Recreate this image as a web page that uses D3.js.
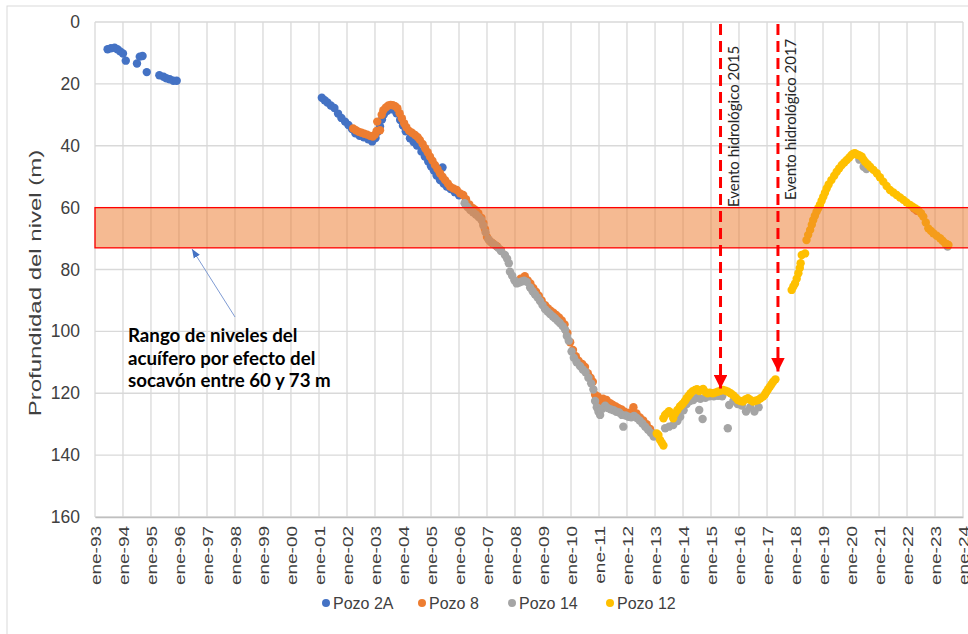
<!DOCTYPE html>
<html><head><meta charset="utf-8">
<script src="https://cdn.jsdelivr.net/npm/d3@7"></script>
<style>body{margin:0;background:#fff}svg{display:block}</style>
</head><body><svg id="c" width="968" height="634"></svg>
<script>
// ---- DATA (decimal year, depth m) ----
const seriesNames = ["Pozo 2A","Pozo 8","Pozo 14","Pozo 12"];
const seriesColors = ["#4472C4","#ED7D31","#A5A5A5","#FFC000"];
const pozo2A = [[1993.45,8.8],[1993.57,8.5],[1993.7,8.3],[1993.8,8.8],[1993.9,9.5],[1994.0,10.2],[1994.1,12.5],[1994.5,13.4],[1994.6,11.2],[1994.7,11.0],[1994.85,16.2],[1995.3,17.2],[1995.45,17.7],[1995.55,18.2],[1995.67,18.5],[1995.8,19.0],[1995.92,19.0],
[2001.1,24.5],[2001.2,25.3],[2001.3,26.0],[2001.42,27.0],[2001.55,27.8],[2001.68,29.6],[2001.8,31.0],[2001.93,32.2],[2002.05,33.3],[2002.18,34.6],[2002.3,36.0],[2002.45,36.8],[2002.6,37.3],[2002.76,37.9],[2002.9,38.6],[2003.02,37.5],[2003.1,35.5],[2003.18,33.8],[2003.25,31.5],[2003.32,29.8],[2003.44,28.7],[2003.6,28.2],[2003.77,29.5],[2003.9,31.7],[2004.0,33.5],[2004.1,35.3],[2004.25,37.6],[2004.38,38.8],[2004.5,39.9],[2004.66,41.9],[2004.78,43.5],[2004.9,45.1],[2005.0,46.6],[2005.1,48.0],[2005.2,49.6],[2005.32,51.1],[2005.41,47.0],[2005.45,52.2],[2005.56,53.2],[2005.7,54.0],[2005.85,55.0],[2006.0,56.0],[2008.3,83.2]];
const pozo8 = [[2002.22,34.4],[2002.32,35.0],[2002.42,35.5],[2002.52,35.8],[2002.62,36.1],[2002.72,36.4],[2002.82,36.8],[2002.92,37.0],[2003.0,36.4],[2003.06,35.2],[2003.08,32.2],[2003.18,35.0],[2003.24,30.0],[2003.3,28.5],[2003.39,27.6],[2003.48,27.0],[2003.56,26.8],[2003.64,26.9],[2003.72,27.2],[2003.8,27.9],[2003.88,29.5],[2003.96,31.1],[2004.04,32.7],[2004.12,34.0],[2004.22,35.2],[2004.32,35.8],[2004.43,36.5],[2004.52,37.2],[2004.6,38.1],[2004.7,39.4],[2004.79,40.8],[2004.88,42.1],[2004.96,43.5],[2005.05,44.8],[2005.14,46.2],[2005.23,47.5],[2005.32,48.9],[2005.41,50.0],[2005.5,51.1],[2005.6,52.2],[2005.68,53.2],[2005.8,53.8],[2005.92,54.3],[2006.04,55.4],[2006.15,55.9],[2006.25,57.3],[2006.37,59.0],[2006.5,60.2],[2006.6,60.8],[2006.69,61.8],[2006.8,63.3],[2006.87,65.0],[2006.93,67.0],[2007.0,69.5],[2007.1,70.8],[2007.2,71.5],[2007.35,72.5],[2007.5,73.8],
[2008.2,83.0],[2008.35,82.2],[2008.45,83.5],[2008.55,84.5],[2008.65,86.0],[2008.75,87.2],[2008.85,88.5],[2008.95,90.0],[2009.07,91.5],[2009.17,92.5],[2009.27,93.3],[2009.37,94.0],[2009.47,94.7],[2009.57,95.5],[2009.67,96.5],[2009.77,97.8],[2009.87,100.5],[2009.97,103.5],[2010.07,106.0],[2010.17,108.0],[2010.27,109.5],[2010.4,110.5],[2010.5,111.5],[2010.6,113.5],[2010.7,115.0],[2010.78,116.3],[2010.86,120.5],[2010.95,121.0],[2011.05,122.5],[2011.15,121.8],[2011.27,122.2],[2011.4,123.2],[2011.5,123.8],[2011.6,124.3],[2011.7,124.8],[2011.8,125.2],[2011.92,126.0],[2012.02,126.5],[2012.12,126.2],[2012.23,124.5],[2012.34,126.5],[2012.46,127.8],[2012.58,128.8],[2012.7,130.0],[2012.82,131.5],[2012.94,133.0],[2013.04,133.8],
[2022.25,60.3],[2022.35,61.0]];
const pozo14 = [[2006.2,58.6],[2006.3,59.8],[2006.4,60.8],[2006.5,61.5],[2006.6,62.2],[2006.7,63.0],[2006.8,64.0],[2006.87,65.8],[2006.95,68.0],[2007.05,70.2],[2007.15,71.2],[2007.29,72.1],[2007.4,73.0],[2007.5,74.0],[2007.64,75.3],[2007.72,76.5],[2007.78,78.0],[2007.82,80.7],[2007.9,82.0],[2007.98,83.5],[2008.06,84.5],[2008.15,84.2],[2008.24,83.9],[2008.33,83.6],[2008.42,84.0],[2008.54,85.8],[2008.63,87.0],[2008.71,88.0],[2008.8,89.0],[2008.89,90.2],[2008.98,91.5],[2009.07,92.8],[2009.16,93.6],[2009.25,94.4],[2009.35,95.2],[2009.43,95.8],[2009.52,96.6],[2009.6,97.3],[2009.7,98.3],[2009.79,99.5],[2009.85,101.5],[2009.92,103.0],[2010.02,106.5],[2010.1,108.5],[2010.2,110.0],[2010.32,111.2],[2010.42,112.3],[2010.52,113.2],[2010.62,115.0],[2010.72,116.8],[2010.8,118.8],[2010.86,122.5],[2010.92,124.5],[2010.98,126.0],[2011.04,127.0],[2011.12,125.0],[2011.22,124.0],[2011.32,124.8],[2011.42,125.2],[2011.52,125.5],[2011.62,126.0],[2011.72,126.2],[2011.82,127.0],[2011.87,130.8],[2011.95,127.2],[2012.05,127.6],[2012.15,127.8],[2012.25,127.3],[2012.35,128.0],[2012.45,128.8],[2012.55,129.8],[2012.65,130.8],[2012.75,131.8],[2012.85,132.8],[2012.95,134.0],
[2013.36,131.3],[2013.5,130.8],[2013.65,130.3],[2013.8,129.0],[2013.9,127.6],[2014.02,125.5],[2014.13,123.5],[2014.25,122.5],[2014.37,122.2],[2014.5,121.5],[2014.58,125.4],[2014.7,128.3],[2014.62,121.8],[2014.8,121.5],[2014.95,121.0],[2015.1,121.0],[2015.25,120.8],[2015.4,121.0],[2015.6,131.3],[2015.65,123.8],[2015.8,122.5],[2015.95,123.5],[2016.1,124.0],[2016.25,125.9],[2016.4,124.5],[2016.55,125.9],[2016.7,124.5],
[2020.3,44.5],[2020.45,46.8],[2020.55,47.5],[2023.45,72.6]];
const pozo12 = [[2013.06,133.0],[2013.12,133.5],[2013.18,135.1],[2013.24,136.0],[2013.3,136.9],
[2013.3,128.1],[2013.36,127.0],[2013.42,126.5],[2013.5,125.8],[2013.58,126.5],[2013.65,128.1],[2013.72,126.5],[2013.8,125.4],[2013.89,124.3],[2013.95,123.8],[2014.0,123.3],[2014.07,122.5],[2014.13,121.6],[2014.2,120.8],[2014.27,120.0],[2014.35,119.3],[2014.43,118.9],[2014.5,118.7],[2014.58,119.3],[2014.64,118.9],[2014.72,118.6],[2014.8,119.6],[2014.88,120.0],[2014.96,119.8],[2015.06,120.0],[2015.15,119.8],[2015.24,119.5],[2015.34,119.2],[2015.43,118.9],[2015.52,119.2],[2015.61,119.5],[2015.7,120.0],[2015.79,120.6],[2015.88,121.4],[2015.96,122.2],[2016.05,122.5],[2016.14,122.7],[2016.23,122.0],[2016.32,121.6],[2016.41,122.2],[2016.5,122.7],[2016.59,122.4],[2016.68,122.2],[2016.77,121.6],[2016.86,121.1],[2016.93,120.3],[2016.98,119.5],[2017.04,118.7],[2017.1,117.9],[2017.16,117.1],[2017.22,116.3],[2017.3,115.5],
[2017.88,86.6],[2017.94,85.5],[2018.0,84.5],[2018.06,83.0],[2018.12,81.2],[2018.17,79.5],[2018.2,78.0],[2018.24,75.3],[2018.36,74.8],[2018.41,70.5],[2018.47,68.8],[2018.54,67.2],[2018.6,65.5],[2018.65,64.0],[2018.71,62.6],[2018.77,61.3],[2018.83,60.2],[2018.89,59.1],[2018.95,57.8],[2019.01,56.5],[2019.07,55.2],[2019.13,53.8],[2019.2,52.5],[2019.3,51.1],[2019.4,49.7],[2019.49,48.4],[2019.58,47.3],[2019.67,46.2],[2019.76,45.4],[2019.85,44.6],[2019.94,43.8],[2020.02,43.0],[2020.08,42.6],[2020.14,42.4],[2020.2,42.8],[2020.26,43.0],[2020.32,43.2],[2020.38,43.5],[2020.44,44.4],[2020.5,45.2],[2020.59,46.0],[2020.68,46.8],[2020.8,47.8],[2020.92,48.9],[2021.03,50.2],[2021.15,51.6],[2021.27,53.0],[2021.39,54.3],[2021.51,55.1],[2021.63,55.9],[2021.75,56.7],[2021.87,57.5],[2021.98,58.3],[2022.1,59.1],[2022.2,59.7],[2022.3,60.3],[2022.4,60.8],[2022.5,61.8],[2022.58,62.9],[2022.67,64.8],[2022.76,66.7],[2022.85,67.5],[2022.94,68.3],[2023.06,69.1],[2023.18,69.9],[2023.27,70.7],[2023.36,71.5],[2023.42,71.8],[2023.48,72.1]];
const seriesData = [pozo2A, pozo8, pozo14, pozo12];
const yTicks = [0,20,40,60,80,100,120,140,160];
const xTickYears = d3.range(1993, 2025);
const monthAbbr = "ene";
const bandRange = [60, 73];
const eventYears = [2015.34, 2017.39];
const eventTips = [118.5, 113];
const eventLabels = ["Evento hidrológico 2015", "Evento hidrológico 2017"];
const yTitle = "Profundidad del nivel (m)";
const noteLines = ["Rango de niveles del", "acuífero por efecto del", "socavón entre 60 y 73 m"];

// ---- CHART ----
const toDate = v => { const y = Math.floor(v); const s = new Date(y,0,1), e = new Date(y+1,0,1); return new Date(+s + (v-y)*(e-s)); };
const svg = d3.select("#c");
const L = 95, R = 963, T = 22, B = 517;
const x = d3.scaleTime().domain([new Date(1993,0,1), new Date(2024,0,1)]).range([L, R]);
const y = d3.scaleLinear().domain([0,160]).range([T, B]);
const font = "'Liberation Sans', Arial, sans-serif";

svg.append("rect").attr("x",7).attr("y",6).attr("width",975).attr("height",640).attr("fill","#fff").attr("stroke","#D9D9D9");

// grid
svg.append("g").selectAll("line").data(yTicks).join("line")
  .attr("x1",L).attr("x2",R).attr("y1",d=>y(d)).attr("y2",d=>y(d)).attr("stroke","#D9D9D9").attr("stroke-width",1.3);
svg.append("g").selectAll("line").data(xTickYears).join("line")
  .attr("x1",d=>x(new Date(d,0,1))).attr("x2",d=>x(new Date(d,0,1))).attr("y1",T).attr("y2",B).attr("stroke","#D9D9D9").attr("stroke-width",1.3);

// y axis
const yAxis = svg.append("g").attr("transform",`translate(${L},0)`)
  .call(d3.axisLeft(y).tickValues(yTicks).tickSize(0).tickPadding(15));
yAxis.select(".domain").remove();
yAxis.selectAll("text").attr("font-family",font).attr("font-size",17.5).attr("fill","#404040");

// x axis
const xAxis = svg.append("g").attr("transform",`translate(0,${B})`)
  .call(d3.axisBottom(x).tickValues(xTickYears.map(d=>new Date(d,0,1))).tickSize(0)
    .tickFormat(d => monthAbbr + "-" + String(d.getFullYear()).slice(2)));
xAxis.select(".domain").attr("stroke","#BFBFBF").attr("stroke-width",1.3);
xAxis.selectAll("text").attr("font-family",font).attr("font-size",19).attr("fill","#404040")
  .attr("text-anchor","end").attr("transform","rotate(-90) scale(1,0.8)").attr("x",-9).attr("y",0).attr("dy","0.35em");

// y title
svg.append("text").attr("transform","translate(41,283) rotate(-90) scale(1.2,0.85)").attr("text-anchor","middle")
  .attr("font-family",font).attr("font-size",20).attr("fill","#404040").text(yTitle);

// points
seriesData.forEach((data,i) => {
  svg.append("g").selectAll("circle").data(data).join("circle")
    .attr("cx",d=>x(toDate(d[0]))).attr("cy",d=>y(d[1])).attr("r",4.2).attr("fill",seriesColors[i]);
});

// band
svg.append("rect").attr("x",L).attr("y",y(bandRange[0])).attr("width",968-L+5).attr("height",y(bandRange[1])-y(bandRange[0]))
  .attr("fill","rgba(237,125,49,0.53)").attr("stroke","#FF0000").attr("stroke-width",1.3);

// events
const defs = svg.append("defs");
defs.append("marker").attr("id","redArrow").attr("viewBox","0 0 10 10").attr("refX",10).attr("refY",5)
  .attr("markerWidth",4.5).attr("markerHeight",4.5).attr("markerUnits","strokeWidth").attr("orient","auto")
  .append("path").attr("d","M0,0L10,5L0,10z").attr("fill","#FF0000");
defs.append("marker").attr("id","blueArrow").attr("viewBox","0 0 10 10").attr("refX",10).attr("refY",5)
  .attr("markerWidth",9).attr("markerHeight",9).attr("markerUnits","strokeWidth").attr("orient","auto")
  .append("path").attr("d","M0,1L10,5L0,9z").attr("fill","#4472C4");
eventYears.forEach((ev,i) => {
  const ex = x(toDate(ev));
  svg.append("line").attr("x1",ex).attr("x2",ex).attr("y1",T+2).attr("y2",y(eventTips[i]))
    .attr("stroke","#FF0000").attr("stroke-width",3).attr("stroke-dasharray","11,6").attr("marker-end","url(#redArrow)");
  svg.append("text").attr("transform",`translate(${ex+18},${i===0?207:200}) rotate(-90)`)
    .attr("font-family","Lato, 'Open Sans', sans-serif").attr("font-size",15).attr("fill","#262626").text(eventLabels[i]);
});

// note
svg.append("line").attr("x1",235).attr("y1",317).attr("x2",192).attr("y2",249)
  .attr("stroke","#7F9BD3").attr("stroke-width",1).attr("marker-end","url(#blueArrow)");
const note = svg.append("text").attr("font-family","Lato, 'Open Sans', sans-serif").attr("font-weight","bold").attr("font-size",18.7).attr("fill","#000");
noteLines.forEach((t,i) => note.append("tspan").attr("x",128).attr("y",342+i*22.5).text(t));

// legend
const legX = [326, 422, 512, 610];
seriesNames.forEach((n,i) => {
  const g = svg.append("g").attr("transform",`translate(${legX[i]},603)`);
  g.append("circle").attr("r",4).attr("fill",seriesColors[i]);
  g.append("text").attr("x",7).attr("dy","0.35em").attr("font-family",font).attr("font-size",16).attr("fill","#404040").text(n);
});
</script></body></html>
